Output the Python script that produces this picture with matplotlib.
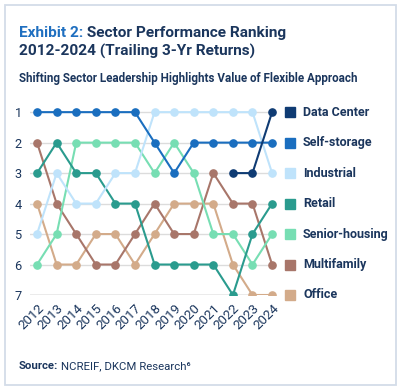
import matplotlib
matplotlib.use("Agg")
import matplotlib.pyplot as plt
import matplotlib.transforms as mtransforms
from matplotlib.patches import Rectangle
import numpy as np

plt.rcParams['font.family'] = ['Roboto', 'DejaVu Sans']

years = list(range(2012, 2025))
sectors = ["Data Center", "Self-storage", "Industrial", "Retail",
           "Senior-housing", "Multifamily", "Office"]
colors = ["#0f3b73", "#1a6ebf", "#bfe3fb", "#2a9b8e", "#77deb3", "#a8766a", "#d3ab8a"]

data_center = [None]*10 + [3, 3, 1]
self_storage = [1, 1, 1, 1, 1, 1, 2, 3, 2, 2, 2, 2, 2]
industrial = [5, 3, 4, 4, 3, 3, 1, 1, 1, 1, 1, 1, 3]
retail = [3, 2, 3, 3, 4, 4, 6, 6, 6, 6, 7, 5, 4]
senior_housing = [6, 5, 2, 2, 2, 2, 3, 2, 3, 5, 5, 6, 5]
multifamily = [2, 4, 5, 6, 6, 5, 4, 5, 5, 3, 4, 4, 6]
office = [4, 6, 6, 5, 5, 6, 5, 4, 4, 4, 6, 7, 7]
series = [data_center, self_storage, industrial, retail, senior_housing, multifamily, office]
ranks = [1, 2, 3, 4, 5, 6, 7]

navy = "#1b365d"
blue = "#1f6fc0"

fig = plt.figure(figsize=(3.99, 3.90), dpi=100)
fig.patch.set_facecolor("white")
fig.add_artist(Rectangle((5/399, 5/390), 391/399, 380/390, transform=fig.transFigure,
                         fill=False, edgecolor="#d3dce8", linewidth=1.3))

ax = fig.add_axes([30/399, 1-295/390, 246/399, 192/390])
for s in ["top", "right", "left", "bottom"]:
    ax.spines[s].set_visible(False)

for r in ranks:
    ax.axhline(r, color="#9a9a9a" if r == 7 else "#dcdcdc", linewidth=1.0, zorder=1)

for name, vals, c in reversed(list(zip(sectors, series, colors))):
    v = np.array([np.nan if x is None else x for x in vals], dtype=float)
    ax.plot(years, v, color=c, linewidth=1.5, marker="o", markersize=5.2, zorder=3)

ax.set_ylim(7, 0.7)
ax.set_xlim(2011.64, 2024.2)
ax.set_yticks(ranks)
ax.set_yticklabels([str(r) for r in ranks], fontsize=9.2, color=navy)
ax.set_xticks(years)
ax.set_xticklabels([str(y) for y in years], rotation=45, ha="right", va="top",
                   rotation_mode="anchor", fontsize=9.6, color=navy)
ax.tick_params(axis="both", length=0)
ax.tick_params(axis="y", pad=6)
ax.tick_params(axis="x", pad=5)

blend = mtransforms.blended_transform_factory(fig.transFigure, ax.transData)
for i, (name, c) in enumerate(zip(sectors, colors)):
    ax.plot([290/399], [ranks[i]], marker="s", markersize=6.5, color=c,
            transform=blend, clip_on=False, linestyle="none")
    ax.text(303/399, ranks[i], name, transform=blend, fontsize=9, color=navy,
            fontweight="semibold", va="center", ha="left")

t1 = fig.text(19/399, 1-37/390, "Exhibit 2:", fontsize=11.1, fontweight="bold",
              color=blue, va="baseline", ha="left")
ax.annotate(" Sector Performance Ranking", xy=(1, 0), xycoords=t1,
            fontsize=11.1, fontweight="bold", color=navy, va="bottom", ha="left",
            annotation_clip=False)
fig.text(19/399, 1-56/390, "2012-2024 (Trailing 3-Yr Returns)", fontsize=11.1,
         fontweight="bold", color=navy, va="baseline", ha="left")
fig.text(19/399, 1-82/390, "Shifting Sector Leadership Highlights Value of Flexible Approach",
         fontsize=8.4, fontweight="semibold", color=navy, va="baseline", ha="left")

s1 = fig.text(19/399, 1-369/390, "Source:", fontsize=8.2, fontweight="bold",
              color=navy, va="baseline", ha="left")
ax.annotate(" NCREIF, DKCM Research\u2076", xy=(1, 0), xycoords=s1, fontsize=8.2,
            color=navy, va="bottom", ha="left", annotation_clip=False)

fig.savefig("out.png", dpi=100, facecolor="white")
